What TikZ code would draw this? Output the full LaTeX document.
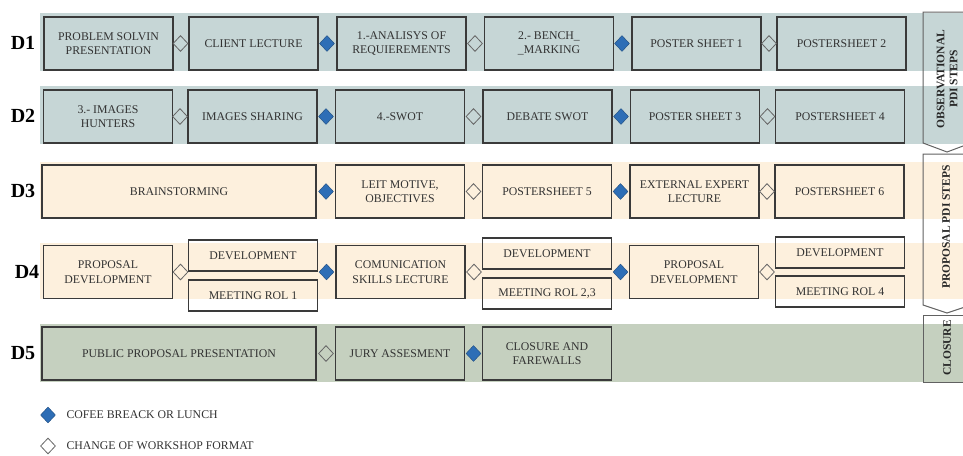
\documentclass[tikz,border=0pt]{standalone}
\usepackage{fontspec}
\setmainfont{Liberation Serif}
\usetikzlibrary{shapes.geometric}
\definecolor{obsband}{RGB}{198,214,214}
\definecolor{propband}{RGB}{253,240,221}
\definecolor{closeband}{RGB}{197,208,191}
\definecolor{breakblue}{RGB}{46,110,182}
\definecolor{boxline}{RGB}{58,58,58}
\definecolor{boxtext}{RGB}{50,50,50}
\tikzset{
  act/.style={draw=boxline, line width=1.3pt, minimum width=129pt, minimum height=53pt,
    inner sep=1pt, align=center, text=boxtext, font=\fontsize{11.8}{14.5}\selectfont},
  wideact/.style={act, minimum width=274pt},
  halfact/.style={act, minimum height=31pt},
  brk/.style={diamond, draw=breakblue!70!black, fill=breakblue, line width=0.4pt,
    minimum width=15pt, minimum height=16pt, inner sep=0pt},
  chg/.style={brk, draw=gray!80!black, fill=none, line width=0.8pt},
  daylbl/.style={font=\bfseries\fontsize{20}{24}\selectfont},
  phase/.style={draw=boxline!80!white, line width=1pt},
  phaselbl/.style={rotate=90, align=center, text=black!85, font=\bfseries\fontsize{11.5}{13}\selectfont},
  legend/.style={anchor=west, text=boxtext, font=\fontsize{11.8}{14.5}\selectfont}
}
\begin{document}
\begin{tikzpicture}[x=1pt,y=-1pt]
  \useasboundingbox (0,0) rectangle (963,455);
  % day bands
  \fill[obsband] (40,13) rectangle (963,71);
  \fill[obsband] (40,86) rectangle (963,144);
  \fill[propband] (40,162) rectangle (963,219);
  \fill[propband] (40,243) rectangle (963,299);
  \fill[closeband] (40,324) rectangle (963,382);

  \node[daylbl] (d1) at (23,43) {D1};
  \node[daylbl] (d2) at (23,116) {D2};
  \node[daylbl] (d3) at (23,191) {D3};
  \node[daylbl] (d4) at (27,272) {D4};
  \node[daylbl] (d5) at (23,353) {D5};

  % D1
  \node[act] (a11) at (108.5,43.5) {PROBLEM SOLVIN\\PRESENTATION};
  \node[act] (a12) at (253.5,43.5) {CLIENT LECTURE};
  \node[act] (a13) at (401.5,43.5) {1.-ANALISYS OF\\REQUIEREMENTS};
  \node[act] (a14) at (549,43.5) {2.- BENCH\_\\\_MARKING};
  \node[act] (a15) at (696.5,43.5) {POSTER SHEET 1};
  \node[act] (a16) at (841.5,43.5) {POSTERSHEET 2};
  \node[chg] (k11) at (180.5,43.5) {};
  \node[brk] (k12) at (327,43.5) {};
  \node[chg] (k13) at (475,43.5) {};
  \node[brk] (k14) at (622,43.5) {};
  \node[chg] (k15) at (769,43.5) {};

  % D2
  \node[act] (a21) at (108,116.5) {3.- IMAGES\\HUNTERS};
  \node[act] (a22) at (252.5,116.5) {IMAGES SHARING};
  \node[act] (a23) at (400,116.5) {4.-SWOT};
  \node[act] (a24) at (547.5,116.5) {DEBATE SWOT};
  \node[act] (a25) at (695,116.5) {POSTER SHEET 3};
  \node[act] (a26) at (840,116.5) {POSTERSHEET 4};
  \node[chg] (k21) at (180,116.5) {};
  \node[brk] (k22) at (326,116.5) {};
  \node[chg] (k23) at (473.5,116.5) {};
  \node[brk] (k24) at (621,116.5) {};
  \node[chg] (k25) at (767.5,116.5) {};

  % D3
  \node[wideact] (a31) at (179,191.5) {BRAINSTORMING};
  \node[act] (a32) at (400,191.5) {LEIT MOTIVE,\\OBJECTIVES};
  \node[act] (a33) at (547,191.5) {POSTERSHEET 5};
  \node[act] (a34) at (694.5,191.5) {EXTERNAL EXPERT\\LECTURE};
  \node[act] (a35) at (839.5,191.5) {POSTERSHEET 6};
  \node[brk] (k31) at (326,191.5) {};
  \node[chg] (k32) at (473.5,191.5) {};
  \node[brk] (k33) at (620.5,191.5) {};
  \node[chg] (k34) at (767,191.5) {};

  % D4
  \node[act] (a41) at (108,272) {PROPOSAL\\DEVELOPMENT};
  \node[halfact] (a42) at (253,255.5) {DEVELOPMENT};
  \node[halfact] (a43) at (253,295.5) {MEETING ROL 1};
  \node[act] (a44) at (400.5,272) {COMUNICATION\\SKILLS LECTURE};
  \node[halfact] (a45) at (547,253.5) {DEVELOPMENT};
  \node[halfact] (a46) at (547,293.5) {MEETING ROL 2,3};
  \node[act] (a47) at (694,272) {PROPOSAL\\DEVELOPMENT};
  \node[halfact] (a48) at (840,252.5) {DEVELOPMENT};
  \node[halfact] (a49) at (840,291.5) {MEETING ROL 4};
  \node[chg] (k41) at (180.5,272) {};
  \node[brk] (k42) at (326.5,272) {};
  \node[chg] (k43) at (474,272) {};
  \node[brk] (k44) at (620.5,272) {};
  \node[chg] (k45) at (767,272) {};

  % D5
  \node[wideact] (a51) at (179,353.5) {PUBLIC PROPOSAL PRESENTATION};
  \node[act] (a52) at (400,353.5) {JURY ASSESMENT};
  \node[act] (a53) at (547,353.5) {CLOSURE AND\\FAREWALLS};
  \node[chg] (k51) at (326,353.5) {};
  \node[brk] (k52) at (473.5,353.5) {};

  % phases
  \draw[phase] (923,12) -- (971,12) -- (971,143) -- (947,152) -- (923,143) -- cycle;
  \draw[phase] (923,154) -- (971,154) -- (971,305) -- (947,313) -- (923,305) -- cycle;
  \draw[phase] (923,315) rectangle (971,382);
  \node[phaselbl] (p1) at (947,79) {OBSERVATIONAL\\PDI STEPS};
  \node[phaselbl] (p2) at (946,227) {PROPOSAL PDI STEPS};
  \node[phaselbl] (p3) at (947,348) {CLOSURE};

  % legend
  \node[brk] (lg1) at (48,415) {};
  \node[chg] (lg2) at (48,446) {};
  \node[legend] (t1) at (63,415) {COFEE BREACK OR LUNCH};
  \node[legend] (t2) at (63,446) {CHANGE OF WORKSHOP FORMAT};
\end{tikzpicture}
\end{document}
